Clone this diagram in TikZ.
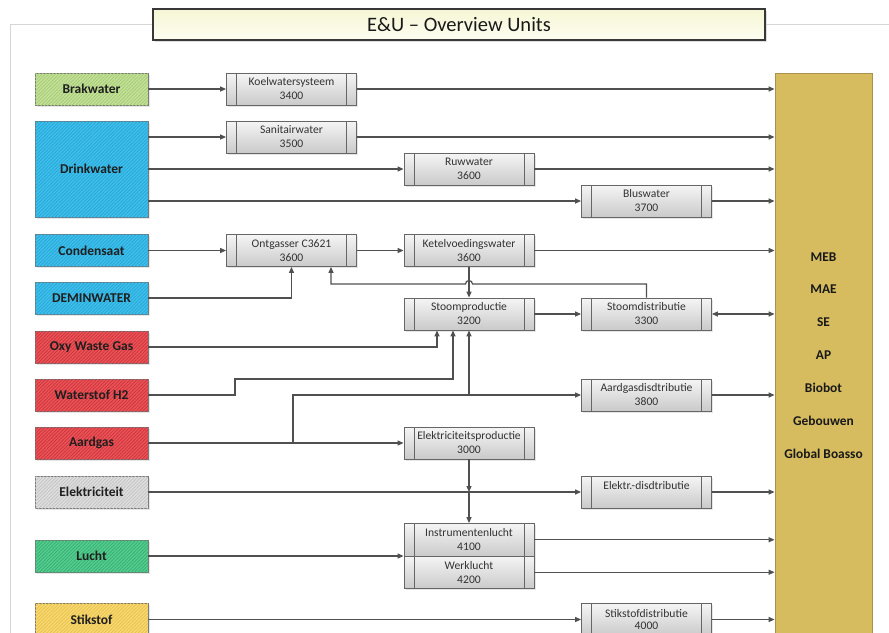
\documentclass[tikz,border=0pt]{standalone}
\usepackage{fontspec}
\setmainfont{Carlito}
\usetikzlibrary{arrows.meta,patterns.meta,shadows,calc}

\definecolor{wire}{HTML}{505050}
\definecolor{framegray}{HTML}{D6D6D6}
\definecolor{srcedge}{HTML}{7A7A7A}
\definecolor{brakfill}{HTML}{C4E09A}
\definecolor{brakline}{HTML}{A3CB70}
\definecolor{waterfill}{HTML}{40BFEA}
\definecolor{waterline}{HTML}{24A6D8}
\definecolor{gasfill}{HTML}{EA5459}
\definecolor{gasline}{HTML}{CC333A}
\definecolor{elecfill}{HTML}{DEDEDE}
\definecolor{elecline}{HTML}{C2C2C2}
\definecolor{airfill}{HTML}{55CC90}
\definecolor{airline}{HTML}{36AE6E}
\definecolor{nitrofill}{HTML}{F8D971}
\definecolor{nitroline}{HTML}{E6C04A}
\definecolor{sinkfill}{HTML}{D6BC5F}
\definecolor{sinkedge}{HTML}{A8924E}
\definecolor{proctop}{HTML}{F5F5F5}
\definecolor{procbot}{HTML}{CACACA}
\definecolor{procedge}{HTML}{666666}
\definecolor{titletop}{HTML}{F6F6D4}
\definecolor{titlebot}{HTML}{FDFDF2}

\tikzset{
  >={Triangle[length=6pt,width=5pt]},
  arr/.style={draw=wire, line width=1.2pt, ->},
  dualarr/.style={draw=wire, line width=1.2pt, <->},
  frameline/.style={draw=framegray, line width=0.8pt},
  source/.style={draw=srcedge, line width=0.8pt, minimum width=113pt,
    minimum height=32pt, fill=#1fill,
    postaction={pattern={Lines[angle=45,distance=2.4pt,line width=0.7pt]},
      pattern color=#1line},
    font=\bfseries\fontsize{13.5}{15}\selectfont, text=black!88,
    drop shadow={shadow xshift=1.5pt, shadow yshift=-1.5pt, opacity=0.2}},
  proc/.style={draw=procedge, line width=0.8pt, top color=proctop,
    bottom color=procbot, minimum width=130pt, minimum height=32pt,
    align=center, inner sep=0pt, text=black!80,
    font=\fontsize{11.6}{14}\selectfont,
    drop shadow={shadow xshift=1.5pt, shadow yshift=-1.5pt, opacity=0.2},
    path picture={
      \draw[procedge, line width=0.7pt]
        ([xshift=10pt]path picture bounding box.north west) --
        ([xshift=10pt]path picture bounding box.south west)
        ([xshift=-10pt]path picture bounding box.north east) --
        ([xshift=-10pt]path picture bounding box.south east);
    }},
  sink/.style={draw=sinkedge, line width=0.8pt, fill=sinkfill,
    minimum width=97pt, minimum height=577pt},
  sinklabel/.style={font=\bfseries\fontsize{13.4}{15}\selectfont, text=black!90},
  titlebox/.style={draw=black!78, line width=2.6pt, top color=titletop,
    bottom color=titlebot, minimum width=612pt, minimum height=31pt,
    font=\fontsize{20.5}{24}\selectfont, text=black!90,
    drop shadow={shadow xshift=2pt, shadow yshift=-2pt, opacity=0.25}}
}

\begin{document}
\begin{tikzpicture}[x=1pt,y=-1pt]
\useasboundingbox (0,0) rectangle (889,632);
\clip (0,0) rectangle (889,632);

% page title and sheet frame
\node[titlebox] (title) at (459,24.5) {E\&U -- Overview Units};
\draw[frameline] (10,640) |- (title.west);
\draw[frameline] (title.east) -- (889,24.5);

% consumers
\node[sink] (sink) at (823.5,361.5) {};
\foreach \t [count=\i] in {MEB,MAE,SE,AP,Biobot,Gebouwen,Global Boasso}
  \node[sinklabel] (sl\i) at (823.5,{256.7+32.8*(\i-1)}) {\t};

% utility sources
\node[source=brak, minimum height=32pt] (brak) at (91.5,89) {Brakwater};
\node[source=water, minimum height=96pt] (drink) at (91.5,169) {Drinkwater};
\node[source=water] (cond) at (91.5,250.5) {Condensaat};
\node[source=water] (demin) at (91.5,298) {DEMINWATER};
\node[source=gas] (oxy) at (91.5,347) {Oxy Waste Gas};
\node[source=gas] (wsf) at (91.5,395) {Waterstof H2};
\node[source=gas] (gas) at (91.5,443) {Aardgas};
\node[source=elec] (elek) at (91.5,492) {Elektriciteit};
\node[source=air] (lucht) at (91.5,556) {Lucht};
\node[source=nitro] (n2) at (91.5,619.5) {Stikstof};

% process units
\node[proc] (koel) at (291.5,89) {Koelwatersysteem\\3400};
\node[proc] (sani) at (291.5,137) {Sanitairwater\\3500};
\node[proc] (ruw) at (469,169) {Ruwwater\\3600};
\node[proc] (blus) at (646.5,201) {Bluswater\\3700};
\node[proc] (ontg) at (291.5,250.5) {Ontgasser C3621\\3600};
\node[proc] (ketel) at (469,250.5) {Ketelvoedingswater\\3600};
\node[proc] (stprod) at (469,314) {Stoomproductie\\3200};
\node[proc] (stdist) at (646.5,314) {Stoomdistributie\\3300};
\node[proc] (agdist) at (646.5,395) {Aardgasdisdtributie\\3800};
\node[proc] (elprod) at (469,443) {Elektriciteitsproductie\\3000};
\node[proc] (eldist) at (646.5,492) {Elektr.-disdtributie\\\mbox{}};
\node[proc, minimum height=32.5pt] (instr) at (469,539.75) {Instrumentenlucht\\4100};
\node[proc, minimum height=32.5pt] (werk) at (469,572.25) {Werklucht\\4200};
\node[proc] (n2dist) at (646.5,619.5) {Stikstofdistributie\\[-1.5pt]4000};

% deliveries to the consumers
\foreach \n in {koel,sani,ruw,blus,ketel,agdist,eldist,instr,werk,n2dist}
  \draw[arr] (\n.east) -- (\n.east -| sink.west);
\draw[dualarr] (stdist.east) -- (stdist.east -| sink.west);

% water
\draw[arr] (brak.east) -- (koel.west);
\draw[arr] (drink.east |- sani.west) -- (sani.west);
\draw[arr] (drink.east |- ruw.west) -- (ruw.west);
\draw[arr] (drink.east |- blus.west) -- (blus.west);
\draw[arr] (cond.east) -- (ontg.west);
\draw[arr] (ontg.east) -- (ketel.west);
\draw[arr] (demin.east) -| (ontg.south);

% steam
\draw[arr] (ketel.south) -- (stprod.north);
\draw[arr] (stprod.east) -- (stdist.west);
\draw[arr] (stdist.north) |- ($(stprod.north |- 0,284)+(3.5,0)$)
  arc[start angle=0, end angle=180, radius=3.5pt]
  -| ([xshift=39.5pt]ontg.south);

% fuels
\draw[arr] (oxy.east) -| ($(stprod.south)+(-32,0)$);
\draw[arr] (wsf.east) -| (235,379) -| ($(stprod.south)+(-16,0)$);
\coordinate (agj) at (agdist.west -| 293,0);
\draw[arr] (gas.east) -| (agj) -| (stprod.south);
\draw[arr] (agj) -- (agdist.west);
\draw[arr] (gas.east) -- (elprod.west);

% electricity, air, nitrogen
\draw[arr] (elek.east) -- (eldist.west);
\coordinate (elj) at (elprod.south |- eldist.west);
\draw[arr] (elprod.south) -- (elj);
\draw[arr] (elj) -- (instr.north);
\draw[arr] (lucht.east) -- (lucht.east -| instr.south west);
\draw[arr] (n2.east) -- (n2dist.west);
\end{tikzpicture}
\end{document}
